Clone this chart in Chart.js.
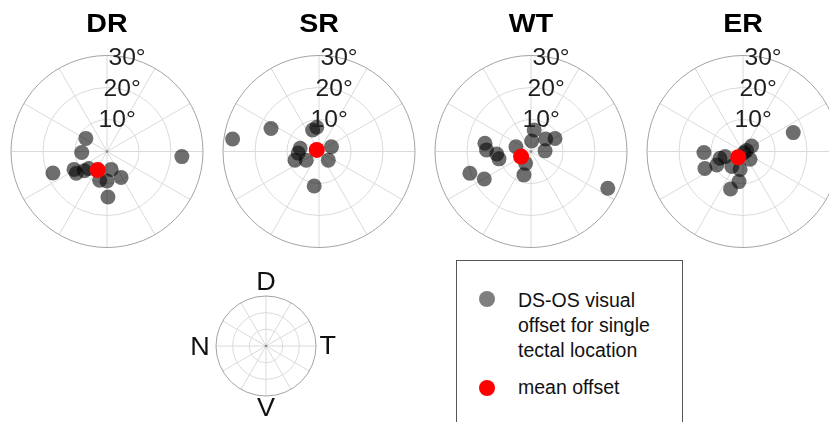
<!DOCTYPE html>
<html>
<head>
<meta charset="utf-8">
<script src="https://cdn.jsdelivr.net/npm/chart.js@4.4.1/dist/chart.umd.min.js"></script>
<style>
  html, body { margin: 0; padding: 0; background: #fff; }
  body { width: 829px; height: 422px; overflow: hidden; position: relative;
         font-family: "Liberation Sans", Arial, Helvetica, sans-serif; }
  canvas { position: absolute; }
  #legendBox { position: absolute; left: 456px; top: 260px; width: 227px; height: 200px;
               border: 1px solid #555; box-sizing: border-box; }
  .dot { position: absolute; width: 16px; height: 16px; border-radius: 50%; }
  .ltext { position: absolute; left: 518px; font-size: 19.5px; line-height: 25px; color: #111; white-space: nowrap; }
</style>
</head>
<body>
<div id="legendBox"></div>
<div class="dot" style="left:479px; top:291px; background:#7f7f7f;"></div>
<div class="ltext" style="top:287.5px;">DS-OS visual<br>offset for single<br>tectal location</div>
<div class="dot" style="left:479px; top:380px; background:#ff0000;"></div>
<div class="ltext" style="top:375px;">mean offset</div>

<script>
// Visual offsets (degrees) per tectal location: x = nasal(-)/temporal(+), y = ventral(-)/dorsal(+)
const panelTitles = ['DR', 'SR', 'WT', 'ER'];
const ringTicks = [10, 20, 30];
const tickLabels = ['10°', '20°', '30°'];
const compassLabels = ['D', 'T', 'V', 'N'];

const drOffsetX = [-6.6, -7.9, -16.9, -10.3, -9.6, -7.1, -5.7, 1.3, 4.4, -2.3, 0.0, 0.3, 23.4];
const drOffsetY = [4.1, -0.3, -6.7, -5.6, -6.8, -6.0, -5.3, -5.6, -8.1, -9.0, -9.2, -14.2, -1.6];

const srOffsetX = [-27.0, -15.0, -2.0, -0.7, -5.9, -6.5, -7.5, -4.0, 3.9, 2.9, -1.5];
const srOffsetY = [3.9, 7.2, 6.7, 7.6, 1.0, -0.5, -2.7, -2.7, 1.5, -2.7, -10.8];

const wtOffsetX = [-14.4, -13.9, -10.7, -10.0, -19.1, -14.6, -4.7, -1.7, -2.2, 1.0, 0.2, 4.6, 7.5, 4.4, 24.0];
const wtOffsetY = [2.6, 0.5, -0.8, -2.3, -6.8, -8.6, 1.5, -3.7, -7.3, 6.7, 3.3, 3.9, 4.1, 0.2, -11.5];

const erOffsetX = [15.7, -12.2, -11.9, -8.2, -7.2, -5.6, -3.5, -0.9, 2.7, 1.1, 2.2, -1.25, -3.9, 0.3];
const erOffsetY = [5.9, -0.3, -5.3, -4.2, -2.1, -1.6, -4.7, -5.6, 1.7, 0.3, -2.4, -9.4, -11.7, -0.4];

// mean offset per group
const meanOffsetX = [-2.9, -0.7, -3.1, -1.5];
const meanOffsetY = [-5.8, 0.5, -1.6, -1.8];

const FONT = '"Liberation Sans", Arial, Helvetica, sans-serif';

function stretchedText(ctx, text, x, y, sx) {
  ctx.save();
  ctx.translate(x, y);
  ctx.scale(sx, 1);
  ctx.fillText(text, 0, 0);
  ctx.restore();
}

// Polar grid drawn on top of the hidden cartesian x/y scales
const polarGrid = {
  id: 'polarGrid',
  beforeDatasetsDraw(chart, args, opts) {
    const { ctx } = chart;
    const xs = chart.scales.x, ys = chart.scales.y;
    const cx = xs.getPixelForValue(0), cy = ys.getPixelForValue(0);
    const R = xs.getPixelForValue(opts.max) - cx;
    ctx.save();
    ctx.lineWidth = 1;
    ctx.strokeStyle = '#dadada';
    for (let a = 0; a < 360; a += 30) {
      const t = a * Math.PI / 180;
      ctx.beginPath();
      ctx.moveTo(cx, cy);
      ctx.lineTo(cx + R * Math.cos(t), cy - R * Math.sin(t));
      ctx.stroke();
    }
    opts.rings.forEach(v => {
      if (v >= opts.max) return;
      const r = xs.getPixelForValue(v) - cx;
      ctx.beginPath();
      ctx.arc(cx, cy, r, 0, 2 * Math.PI);
      ctx.stroke();
    });
    ctx.strokeStyle = '#a3a3a3';
    ctx.beginPath();
    ctx.arc(cx, cy, R, 0, 2 * Math.PI);
    ctx.stroke();
    ctx.fillStyle = '#888';
    ctx.beginPath();
    ctx.arc(cx, cy, 1.3, 0, 2 * Math.PI);
    ctx.fill();
    ctx.restore();
  },
  afterDatasetsDraw(chart, args, opts) {
    const { ctx } = chart;
    const xs = chart.scales.x, ys = chart.scales.y;
    const cx = xs.getPixelForValue(0), cy = ys.getPixelForValue(0);
    const R = xs.getPixelForValue(opts.max) - cx;
    ctx.save();
    ctx.textAlign = 'center';
    ctx.textBaseline = 'middle';
    if (opts.tickLabels) {
      ctx.fillStyle = '#1e1e1e';
      ctx.font = '23px ' + FONT;
      opts.rings.forEach((v, i) => {
        const r = xs.getPixelForValue(v) - cx;
        stretchedText(ctx, opts.tickLabels[i], cx + 5.2 + 0.155 * r, cy - 0.97 * r + 0.5, 1.07);
      });
    }
    if (opts.title) {
      ctx.fillStyle = '#000';
      ctx.font = 'bold 25.5px ' + FONT;
      stretchedText(ctx, opts.title, cx, 25, 1.12);
    }
    if (opts.compass) {
      ctx.fillStyle = '#111';
      ctx.font = '25px ' + FONT;
      const [d, t, v, n] = opts.compass;
      stretchedText(ctx, d, cx, cy - R - 12.5, 1.08);
      stretchedText(ctx, t, cx + R + 11.7, cy + 1.5, 1.08);
      stretchedText(ctx, v, cx, cy + R + 13.5, 1.08);
      stretchedText(ctx, n, cx - R - 16, cy + 2.2, 1.08);
    }
    ctx.restore();
  }
};

function toPoints(xs, ys) {
  return xs.map((x, i) => ({ x: x, y: ys[i] }));
}

function makeChart(left, top, w, h, pad, datasets, gridOpts) {
  const canvas = document.createElement('canvas');
  canvas.width = w;
  canvas.height = h;
  canvas.style.left = left + 'px';
  canvas.style.top = top + 'px';
  canvas.style.width = w + 'px';
  canvas.style.height = h + 'px';
  document.body.appendChild(canvas);
  return new Chart(canvas, {
    type: 'scatter',
    data: { datasets: datasets },
    options: {
      responsive: false,
      animation: false,
      events: [],
      layout: { padding: pad },
      scales: {
        x: { type: 'linear', min: -30, max: 30, display: false },
        y: { type: 'linear', min: -30, max: 30, display: false }
      },
      plugins: {
        legend: { display: false },
        tooltip: { enabled: false },
        polarGrid: gridOpts
      }
    },
    plugins: [polarGrid]
  });
}

const groups = [
  [drOffsetX, drOffsetY],
  [srOffsetX, srOffsetY],
  [wtOffsetX, wtOffsetY],
  [erOffsetX, erOffsetY]
];
const centersX = [107, 318.5, 530.5, 742.5];

groups.forEach((g, i) => {
  const w = 220, h = 262;
  makeChart(centersX[i] - 110, 0, w, h,
    { left: 14, right: 14, top: 55.5, bottom: h - 55.5 - 192 },
    [
      {
        label: 'mean offset',
        data: [{ x: meanOffsetX[i], y: meanOffsetY[i] }],
        pointRadius: 8, pointHoverRadius: 8, borderWidth: 0,
        backgroundColor: '#ff0000', clip: false
      },
      {
        label: 'DS-OS visual offset for single tectal location',
        data: toPoints(g[0], g[1]),
        pointRadius: 7.5, pointHoverRadius: 7.5, borderWidth: 0,
        backgroundColor: 'rgba(0,0,0,0.57)', clip: false
      }
    ],
    { max: 30, rings: ringTicks, tickLabels: tickLabels, title: panelTitles[i] }
  );
});

// orientation key
makeChart(266 - 90, 345.5 - 90, 180, 180,
  { left: 40, right: 40, top: 40, bottom: 40 },
  [],
  { max: 30, rings: [10, 20, 30], compass: compassLabels }
);
</script>
</body>
</html>
